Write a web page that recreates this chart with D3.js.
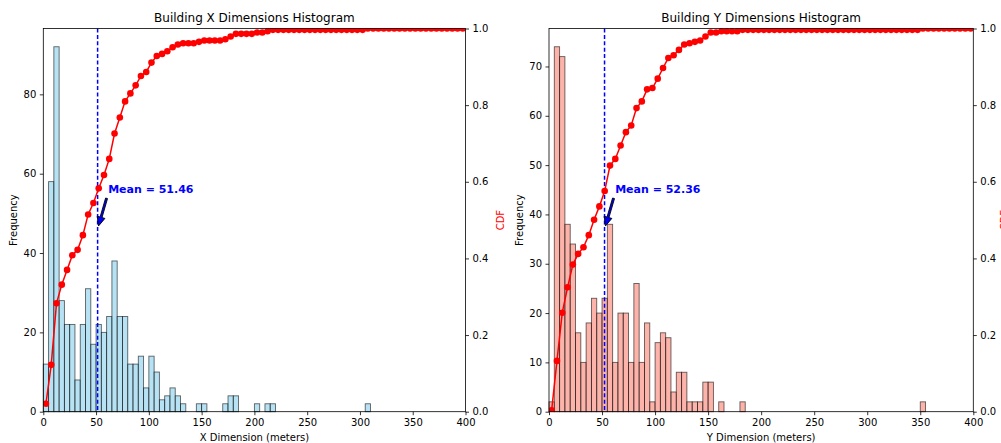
<!DOCTYPE html>
<html><head><meta charset="utf-8">
<script src="https://cdn.jsdelivr.net/npm/d3@7"></script>
<style>
body{margin:0;background:#fff;}
svg{display:block;}
text{font-family:"DejaVu Sans",sans-serif;}
</style>
</head><body>
<svg id="chart" width="1001" height="443"></svg>
<script>
// ---- data ----
const binStarts = [0,5,10,15,20,25,30,35,40,45,50,55,60,65,70,75,80,85,90,95,
  100,105,110,115,120,125,130,135,140,145,150,155,160,165,170,175,180,185,190,195,
  200,205,210,215,220,225,230,235,240,245,250,255,260,265,270,275,280,285,290,295,
  300,305,310,315,320,325,330,335,340,345,350,355,360,365,370,375,380,385,390,395];
const binWidth = 5;

const xCounts = [12,58,92,28,22,22,8,22,31,17, 22,20,24,38,24,24,12,12,14,6,
  14,10,3,4,6,4,2,0,0,2, 2,0,0,0,2,4,4,0,0,0, 2,0,2,2,0,0,0,0,0,0,
  0,0,0,0,0,0,0,0,0,0, 0,2,0,0,0,0,0,0,0,0, 0,0,0,0,0,0,0,0,0,0];
const yCounts = [2,74,72,38,34,16,10,18,23,20, 23,38,10,20,20,10,26,10,18,2,
  14,16,15,4,8,8,2,2,2,6, 6,0,2,0,0,0,2,0,0,0, 0,0,0,0,0,0,0,0,0,0,
  0,0,0,0,0,0,0,0,0,0, 0,0,0,0,0,0,0,0,0,0, 2,0,0,0,0,0,0,0,0,0];

const xCdf = [0.0209,0.1222,0.2827,0.3316,0.3700,0.4084,0.4223,0.4607,0.5148,0.5445,
  0.5829,0.6178,0.6597,0.7260,0.7679,0.8098,0.8307,0.8517,0.8761,0.8866,
  0.9110,0.9284,0.9337,0.9407,0.9511,0.9581,0.9616,0.9616,0.9616,0.9651,
  0.9686,0.9686,0.9686,0.9686,0.9721,0.9791,0.9860,0.9860,0.9860,0.9860,
  0.9895,0.9895,0.9930,0.9965,0.9965,0.9965,0.9965,0.9965,0.9965,0.9965,
  0.9965,0.9965,0.9965,0.9965,0.9965,0.9965,0.9965,0.9965,0.9965,0.9965,
  0.9965,1,1,1,1,1,1,1,1,1, 1,1,1,1,1,1,1,1,1,1];
const yCdf = [0.0035,0.1326,0.2583,0.3246,0.3839,0.4119,0.4293,0.4607,0.5009,0.5358,
  0.5759,0.6422,0.6597,0.6946,0.7295,0.7469,0.7923,0.8098,0.8412,0.8447,
  0.8691,0.8970,0.9232,0.9302,0.9442,0.9581,0.9616,0.9651,0.9686,0.9791,
  0.9895,0.9895,0.9930,0.9930,0.9930,0.9930,0.9965,0.9965,0.9965,0.9965,
  0.9965,0.9965,0.9965,0.9965,0.9965,0.9965,0.9965,0.9965,0.9965,0.9965,
  0.9965,0.9965,0.9965,0.9965,0.9965,0.9965,0.9965,0.9965,0.9965,0.9965,
  0.9965,0.9965,0.9965,0.9965,0.9965,0.9965,0.9965,0.9965,0.9965,0.9965,
  1,1,1,1,1,1,1,1,1,1];

const xMean = 51.46;
const yMean = 52.36;

const xTicks = [0,50,100,150,200,250,300,350,400];
const xFreqTicks = [0,20,40,60,80];
const yFreqTicks = [0,10,20,30,40,50,60,70];
const cdfTicks = [0,0.2,0.4,0.6,0.8,1.0];

// ---- layout ----
const svg = d3.select("#chart");
const plotTop = 28.5, plotBottom = 411.7;

const panels = [
  {id:"a", title:"Building X Dimensions Histogram", xLabel:"X Dimension (meters)",
   counts:xCounts, cdf:xCdf, mean:xMean, freqTicks:xFreqTicks,
   left:43.3, right:465.5, fill:"#87CEEB", freqLabelX:13, cdfLabelX:500},
  {id:"b", title:"Building Y Dimensions Histogram", xLabel:"Y Dimension (meters)",
   counts:yCounts, cdf:yCdf, mean:yMean, freqTicks:yFreqTicks,
   left:549, right:973.3, fill:"#FA8072", freqLabelX:519, cdfLabelX:1004}
];

panels.forEach(p => {
  const g = svg.append("g");
  const xs = d3.scaleLinear().domain([0,400]).range([p.left,p.right]);
  const maxC = d3.max(p.counts);
  const ys = d3.scaleLinear().domain([0,maxC*1.05]).range([plotBottom,plotTop]);
  const yc = d3.scaleLinear().domain([0,1]).range([plotBottom,plotTop]);

  g.append("clipPath").attr("id","clip"+p.id).append("rect")
    .attr("x",p.left).attr("y",plotTop).attr("width",p.right-p.left).attr("height",plotBottom-plotTop);

  // bars
  const bars = binStarts.map((b,i)=>({b, c:p.counts[i]})).filter(d=>d.c>0);
  g.append("g").selectAll("rect").data(bars).join("rect")
    .attr("x",d=>xs(d.b)).attr("width",d=>xs(d.b+binWidth)-xs(d.b))
    .attr("y",d=>ys(d.c)).attr("height",d=>ys(0)-ys(d.c))
    .attr("fill",p.fill).attr("fill-opacity",0.6)
    .attr("stroke","#000").attr("stroke-opacity",0.6).attr("stroke-width",0.9);

  // mean line
  g.append("line").attr("x1",xs(p.mean)).attr("x2",xs(p.mean))
    .attr("y1",plotTop).attr("y2",plotBottom)
    .attr("stroke","#0000ff").attr("stroke-width",1.5).attr("stroke-dasharray","4,2.4");

  // annotation
  const tx = xs(p.mean+10), ty = ys(maxC*0.6);
  g.append("text").attr("x",tx).attr("y",ty).text("Mean = "+p.mean.toFixed(2))
    .attr("fill","#0000ff").attr("font-weight","bold").attr("font-size","11px");
  const tipX = xs(p.mean), tipY = ys(maxC*0.5);
  const dx = tipX-tx, dy = tipY-ty, L = Math.hypot(dx,dy);
  const ux = dx/L, uy = dy/L, nx = -uy, ny = ux;
  const sx = tx+ux*5.8, sy = ty+uy*5.8;
  const ex = tipX-ux*3.4, ey = tipY-uy*3.4;
  const hl = 9, hw = 4, sw = 1;
  const bx = ex-ux*hl, by = ey-uy*hl;
  const pts = [
    [sx+nx*sw, sy+ny*sw],[bx+nx*sw, by+ny*sw],[bx+nx*hw, by+ny*hw],[ex,ey],
    [bx-nx*hw, by-ny*hw],[bx-nx*sw, by-ny*sw],[sx-nx*sw, sy-ny*sw]];
  g.append("polygon").attr("points",pts.map(q=>q.join(",")).join(" "))
    .attr("fill","#0000ff").attr("stroke","#000").attr("stroke-width",0.9);

  // CDF
  const cg = g.append("g").attr("clip-path","url(#clip"+p.id+")");
  const line = d3.line().x((d,i)=>xs(binStarts[i]+binWidth/2)).y(d=>yc(d));
  cg.append("path").attr("d",line(p.cdf)).attr("fill","none")
    .attr("stroke","#ff0000").attr("stroke-width",1.5);
  cg.selectAll("circle").data(p.cdf).join("circle")
    .attr("cx",(d,i)=>xs(binStarts[i]+binWidth/2)).attr("cy",d=>yc(d))
    .attr("r",3.3).attr("fill","#ff0000");

  // frame
  g.append("rect").attr("x",p.left).attr("y",plotTop)
    .attr("width",p.right-p.left).attr("height",plotBottom-plotTop)
    .attr("fill","none").attr("stroke","#000").attr("stroke-width",0.8);

  // axes
  const styleAxis = sel => {
    sel.select(".domain").remove();
    sel.selectAll(".tick line").attr("stroke","#000").attr("stroke-width",0.8);
    sel.selectAll(".tick text").attr("fill","#000").attr("font-size","10px")
      .attr("font-family","DejaVu Sans, sans-serif");
  };
  g.append("g").attr("transform",`translate(0,${plotBottom})`)
    .call(d3.axisBottom(xs).tickValues(xTicks).tickFormat(d3.format("d")).tickSize(3.5).tickPadding(3.5))
    .call(styleAxis);
  g.append("g").attr("transform",`translate(${p.left},0)`)
    .call(d3.axisLeft(ys).tickValues(p.freqTicks).tickFormat(d3.format("d")).tickSize(3.5).tickPadding(3.5))
    .call(styleAxis);
  g.append("g").attr("transform",`translate(${p.right},0)`)
    .call(d3.axisRight(yc).tickValues(cdfTicks).tickFormat(d3.format(".1f")).tickSize(3.5).tickPadding(3.5))
    .call(styleAxis);

  // labels
  const cx = (p.left+p.right)/2, cy = (plotTop+plotBottom)/2;
  g.append("text").attr("x",cx).attr("y",21.5).attr("text-anchor","middle")
    .attr("font-size","12px").attr("fill","#000").text(p.title);
  g.append("text").attr("x",cx).attr("y",441).attr("text-anchor","middle")
    .attr("font-size","10px").attr("fill","#000").text(p.xLabel);
  g.append("text").attr("transform",`translate(${p.freqLabelX+3.5},${cy}) rotate(-90)`)
    .attr("text-anchor","middle").attr("font-size","10px").attr("fill","#000").text("Frequency");
  g.append("text").attr("transform",`translate(${p.cdfLabelX+3.5},${cy}) rotate(-90)`)
    .attr("text-anchor","middle").attr("font-size","10px").attr("fill","#ff0000").text("CDF");
});
</script>
</body></html>
